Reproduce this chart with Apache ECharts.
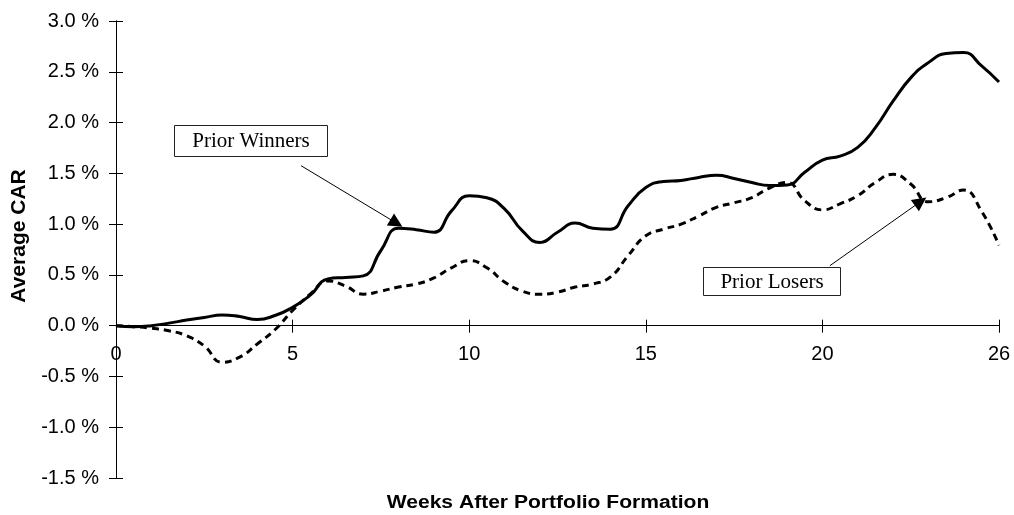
<!DOCTYPE html>
<html>
<head>
<meta charset="utf-8">
<script src="https://cdn.jsdelivr.net/npm/echarts@6/dist/echarts.min.js"></script>
<style>
  html, body { margin: 0; padding: 0; background: #fff; }
  #chart { width: 1014px; height: 515px; }
</style>
</head>
<body>
<div id="chart"></div>
<script>
// Weeks after portfolio formation (half-week steps)
const weeks = [0, 0.5, 1, 1.5, 2, 2.5, 3, 3.5, 4, 4.5, 5, 5.5, 6, 6.5, 7, 7.5, 8, 8.5, 9, 9.5,
  10, 10.5, 11, 11.5, 12, 12.5, 13, 13.5, 14, 14.5, 15, 15.5, 16, 16.5, 17, 17.5, 18, 18.5, 19, 19.5,
  20, 20.5, 21, 21.5, 22, 22.5, 23, 23.5, 24, 24.5, 25];

// Average CAR (%) of prior winners
const priorWinners = [0, -0.01, 0, 0.025, 0.055, 0.08, 0.105, 0.09, 0.06, 0.10,
  0.18, 0.30, 0.46, 0.475, 0.49, 0.74, 0.96, 0.945, 0.92, 1.13,
  1.28, 1.26, 1.15, 0.935, 0.82, 0.92, 1.01, 0.96, 0.95, 1.18,
  1.36, 1.42, 1.43, 1.46, 1.48, 1.45, 1.41, 1.38, 1.385, 1.51,
  1.63, 1.67, 1.755, 1.95, 2.21, 2.44, 2.59, 2.68, 2.69, 2.56, 2.40];

// Average CAR (%) of prior losers
const priorLosers = [0, -0.01, -0.025, -0.05, -0.10, -0.20, -0.36, -0.31, -0.18, -0.04,
  0.15, 0.31, 0.44, 0.39, 0.31, 0.34, 0.38, 0.41, 0.47, 0.57,
  0.64, 0.57, 0.43, 0.34, 0.31, 0.33, 0.38, 0.41, 0.48, 0.69,
  0.885, 0.95, 1.0, 1.08, 1.165, 1.21, 1.26, 1.355, 1.41, 1.23,
  1.14, 1.20, 1.28, 1.41, 1.49, 1.395, 1.22, 1.26, 1.335, 1.13, 0.79];

// Tick labels along the week axis
const xTickLabels = ['0', '5', '10', '15', '20', '26'];

// Annotation arrows, in data coordinates [week, CAR %]
const winnersArrow = [[5.24, 1.575], [7.94, 1.01]];
const losersArrow = [[20.21, 0.59], [22.78, 1.222]];

const sans = "Arial, 'Liberation Sans', sans-serif";
const serif = "'Times New Roman', 'Liberation Serif', serif";

const toPairs = (xs, ys) => xs.map((x, i) => [x, ys[i]]);

// Plot area and value range of the CAR axis
const W = 1014, H = 515;
const grid = { left: 116, right: 15, top: 21, bottom: 37 };
const yMin = -1.5, yMax = 3.0;
// The week axis sits on the 0 % line: shift it up from the bottom edge of the grid
const plotH = H - grid.top - grid.bottom;
const zeroShift = plotH * (0 - yMin) / (yMax - yMin);

const chart = echarts.init(document.getElementById('chart'), null, { renderer: 'canvas' });

const baseX = {
  type: 'value', min: 0, max: 25, interval: 5, position: 'bottom', offset: -zeroShift,
  axisLine: { onZero: false, lineStyle: { color: '#000', width: 1 } },
  splitLine: { show: false }
};
const baseY = {
  type: 'value', min: yMin, max: yMax, interval: 0.5, position: 'left',
  axisLine: { show: true, onZero: false, lineStyle: { color: '#000', width: 1 } },
  splitLine: { show: false }
};

const arrowLine = (pts) => ({
  silent: true,
  symbol: ['none', 'triangle'],
  symbolSize: 14,
  lineStyle: { color: '#000', width: 1, type: 'solid' },
  label: { show: false },
  emphasis: { disabled: true },
  data: [[{ coord: pts[0] }, { coord: pts[1] }]]
});

chart.setOption({
  animation: false,
  backgroundColor: '#fff',
  grid: Object.assign({ containLabel: false }, grid),
  xAxis: [
    Object.assign({}, baseX, {
      axisTick: { show: true, inside: false, length: 7, lineStyle: { color: '#000' } },
      axisLabel: {
        color: '#000', fontFamily: sans, fontSize: 20, margin: 19,
        formatter: (v) => xTickLabels[Math.round(v / 5)]
      }
    }),
    Object.assign({}, baseX, {
      axisTick: { show: true, inside: true, length: 6, lineStyle: { color: '#000' } },
      axisLabel: { show: false }
    })
  ],
  yAxis: [
    Object.assign({}, baseY, {
      axisTick: { show: true, inside: false, length: 7, lineStyle: { color: '#000' } },
      axisLabel: {
        color: '#000', fontFamily: sans, fontSize: 20, margin: 17,
        formatter: (v) => v.toFixed(1) + ' %'
      }
    }),
    Object.assign({}, baseY, {
      axisTick: { show: true, inside: true, length: 7, lineStyle: { color: '#000' } },
      axisLabel: { show: false }
    })
  ],
  series: [
    {
      name: 'Prior Losers',
      type: 'line',
      data: toPairs(weeks, priorLosers),
      smooth: 0.5,
      showSymbol: false,
      lineStyle: { color: '#000', width: 3, type: [7, 5] },
      markLine: arrowLine(losersArrow),
      z: 3
    },
    {
      name: 'Prior Winners',
      type: 'line',
      data: toPairs(weeks, priorWinners),
      smooth: 0.5,
      showSymbol: false,
      lineStyle: { color: '#000', width: 3 },
      markLine: arrowLine(winnersArrow),
      z: 4
    }
  ],
  graphic: [
    {
      type: 'text', x: 19, y: 236, rotation: Math.PI / 2,
      style: { text: 'Average CAR', font: 'bold 21px ' + sans, fill: '#000', align: 'center', verticalAlign: 'middle' }
    },
    {
      type: 'text', x: 548, y: 503, scaleX: 1.17,
      style: { text: 'Weeks After Portfolio Formation', font: 'bold 18px ' + sans, fill: '#000', align: 'center', verticalAlign: 'middle' }
    },
    {
      type: 'group', z: 10,
      children: [
        { type: 'rect', shape: { x: 174.5, y: 125.5, width: 153, height: 31 },
          style: { fill: '#fff', stroke: '#222', lineWidth: 1 } },
        { type: 'text', x: 251, y: 141,
          style: { text: 'Prior Winners', font: '21px ' + serif, fill: '#000', align: 'center', verticalAlign: 'middle' } }
      ]
    },
    {
      type: 'group', z: 10,
      children: [
        { type: 'rect', shape: { x: 703.5, y: 267.5, width: 137, height: 28 },
          style: { fill: '#fff', stroke: '#222', lineWidth: 1 } },
        { type: 'text', x: 772, y: 282,
          style: { text: 'Prior Losers', font: '21px ' + serif, fill: '#000', align: 'center', verticalAlign: 'middle' } }
      ]
    }
  ]
});
</script>
</body>
</html>
